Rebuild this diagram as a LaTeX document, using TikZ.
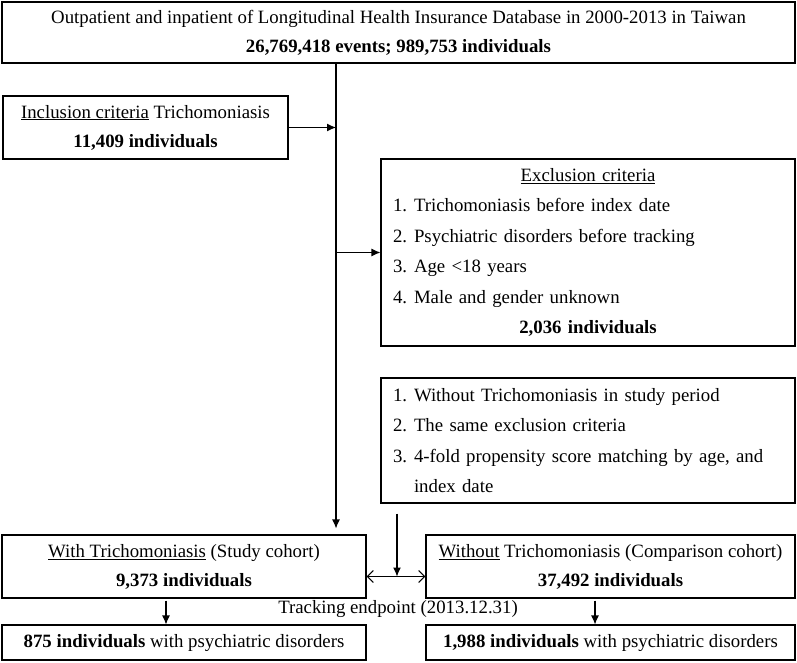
\documentclass[tikz,border=0pt]{standalone}
\usepackage{fontspec}
\setmainfont{Liberation Serif}
\usetikzlibrary{arrows.meta}

\begin{document}
\begin{tikzpicture}[x=1pt,y=-1pt,line width=1.1pt]
    \tikzstyle{box}=[
        draw,
        inner sep=0pt,
        align=center,
        font=\fontsize{18.8}{29}\selectfont]
    \tikzstyle{list}=[
        box,
        align=left,
        text width=390pt,
        font=\fontsize{18.8}{30.5}\selectfont]
    \tikzstyle{fwd}=[-{Latex[length=9pt,width=8pt]}]
    \tikzstyle{both}=[{Straight Barb[length=6pt,width=12pt]}-{Straight Barb[length=6pt,width=12pt]}]

    \newcommand{\ctr}[1]{\makebox[\hsize][c]{#1}}
    \newcommand{\num}[1]{\makebox[21pt][l]{#1}}
    \useasboundingbox (0,0) rectangle (797,663);

    \node[box, minimum width=793, minimum height=61] (db) at (398.5,32.5)
        {Outpatient and inpatient of Longitudinal Health Insurance Database in 2000-2013 in Taiwan\\
         \textbf{26,769,418 events; 989,753 individuals}};
    \node[box, minimum width=285, minimum height=63] (incl) at (145.5,127.5)
        {\underline{Inclusion criteria} Trichomoniasis\\ \textbf{11,409 individuals}};
    \node[list, minimum width=414, minimum height=187] (excl) at (588,252.5)
        {\ctr{\underline{Exclusion criteria}}\\
         \num{1.}Trichomoniasis before index date\\
         \num{2.}Psychiatric disorders before tracking\\
         \num{3.}Age <18 years\\
         \num{4.}Male and gender unknown\\
         \ctr{\textbf{2,036 individuals}}};
    \node[list, minimum width=414, minimum height=125] (match) at (588,440.5)
        {\num{1.}Without Trichomoniasis in study period\\
         \num{2.}The same exclusion criteria\\
         \num{3.}4-fold propensity score matching by age, and\\
         \hspace*{21pt}index date};
    \node[box, minimum width=364, minimum height=63] (study) at (184,566.5)
        {\underline{With Trichomoniasis} (Study cohort)\\ \textbf{9,373 individuals}};
    \node[box, minimum width=369, minimum height=63] (comp) at (610.5,566.5)
        {\underline{Without} Trichomoniasis (Comparison cohort)\\ \textbf{37,492 individuals}};
    \node[box, draw=none] (track) at (398,609) {Tracking endpoint (2013.12.31)};
    \node[box, minimum width=364, minimum height=35] (res1) at (184,642.5)
        {\textbf{875 individuals} with psychiatric disorders};
    \node[box, minimum width=369, minimum height=35] (res2) at (610.5,642.5)
        {\textbf{1,988 individuals} with psychiatric disorders};

    % trunk line and side branches
    \coordinate (trunk) at (336,0);
    \draw[fwd] (db.south -| trunk) -- ([yshift=6pt]study.north -| trunk);
    \draw[fwd] (incl.east) -- (incl.east -| trunk);
    \draw[fwd] (excl.west -| trunk) -- (excl.west);

    % matching into the two cohorts
    \draw[both] ([yshift=-10pt]study.east) coordinate (dl) -- ([yshift=-10pt]comp.west) coordinate (dr);
    \coordinate (mid) at (397,0);
    \draw[fwd] ([yshift=-10pt]match.south -| mid) -- (dl -| mid);

    % tracking
    \coordinate (lt) at (166,0);
    \coordinate (rt) at (595,0);
    \draw[fwd] ([yshift=-2pt]study.south -| lt) -- (res1.north -| lt);
    \draw[fwd] ([yshift=-2pt]comp.south -| rt) -- (res2.north -| rt);
\end{tikzpicture}
\end{document}
